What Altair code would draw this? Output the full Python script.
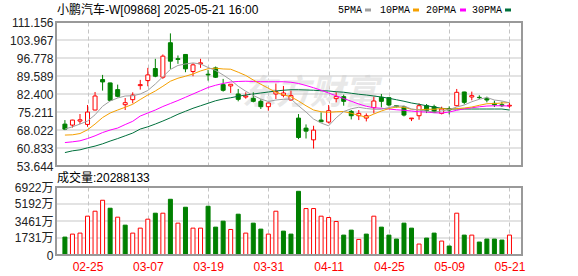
import json
import altair as alt
import pandas as pd

# ---------------- data ----------------
dates = ["02-20", "02-21", "02-24", "02-25", "02-26", "02-27", "02-28", "03-03", "03-04", "03-05",
         "03-06", "03-07", "03-10", "03-11", "03-12", "03-13", "03-14", "03-17", "03-18", "03-19",
         "03-20", "03-21", "03-24", "03-25", "03-26", "03-27", "03-28", "03-31", "04-01", "04-02",
         "04-03", "04-07", "04-08", "04-09", "04-10", "04-11", "04-14", "04-15", "04-16", "04-17",
         "04-22", "04-23", "04-24", "04-25", "04-28", "04-29", "04-30", "05-02", "05-06", "05-07",
         "05-08", "05-09", "05-12", "05-13", "05-14", "05-15", "05-16", "05-19", "05-20", "05-21"]

opens = [70.38, 69.98, 71.58, 70.25, 76.0, 88.16, 86.82, 84.15, 78.13, 80.14,
         85.75, 87.76, 92.57, 89.1, 102.87, 96.5, 98.19, 91.37, 94.44, 90.3,
         92.84, 86.15, 85.62, 82.41, 81.2, 80.67, 79.47, 77.33, 82.41, 81.88,
         80.0, 72.78, 68.77, 64.09, 71.98, 71.18, 80.54, 81.34, 75.46, 73.72,
         72.78, 76.93, 81.07, 80.94, 77.73, 77.33, 72.51, 73.72, 77.73, 77.33,
         74.66, 76.53, 77.73, 83.21, 81.2, 81.07, 80.67, 78.67, 78.13, 77.6]
highs = [71.98, 72.1, 74.4, 78.0, 83.2, 90.03, 86.9, 86.15, 80.8, 83.08,
         88.03, 92.84, 96.45, 98.19, 106.61, 97.79, 98.3, 94.71, 96.45, 92.04,
         93.37, 88.43, 86.29, 84.41, 83.08, 83.08, 80.27, 78.8, 86.56, 85.62,
         83.75, 74.39, 70.25, 69.71, 75.06, 78.0, 83.08, 82.14, 76.0, 76.0,
         74.66, 81.34, 82.41, 81.0, 77.8, 77.73, 72.8, 78.67, 78.4, 78.13,
         77.33, 77.46, 84.41, 83.3, 83.35, 81.88, 81.34, 79.74, 79.34, 78.8]
lows = [67.97, 69.0, 70.38, 69.3, 75.9, 83.75, 79.6, 81.07, 76.0, 78.67,
        84.15, 85.49, 89.1, 88.43, 92.44, 94.44, 91.1, 89.5, 92.84, 87.76,
        88.83, 83.35, 82.81, 79.47, 80.54, 79.07, 76.4, 75.73, 80.4, 81.07,
        79.74, 64.36, 64.63, 60.62, 71.18, 70.65, 79.07, 77.73, 72.25, 71.98,
        71.45, 74.66, 77.06, 77.46, 77.06, 73.45, 71.58, 72.12, 74.79, 74.79,
        74.26, 74.26, 77.46, 78.27, 79.87, 80.4, 79.07, 77.2, 77.2, 76.9]
closes = [68.37, 71.98, 72.1, 75.19, 81.6, 87.22, 79.87, 81.47, 78.93, 82.0,
          86.15, 90.03, 89.5, 97.52, 95.51, 96.2, 92.44, 94.04, 94.84, 90.03,
          89.1, 83.88, 86.29, 80.27, 81.6, 79.47, 77.33, 78.8, 83.35, 82.81,
          81.74, 65.03, 67.57, 67.97, 71.31, 75.73, 81.34, 79.47, 73.72, 74.66,
          73.72, 79.6, 79.47, 78.0, 77.33, 73.99, 72.78, 77.73, 75.86, 75.06,
          76.4, 76.0, 83.08, 79.07, 81.74, 80.94, 80.0, 78.13, 77.73, 77.9]

# volume in 万 shares
volumes = [1824, 2128, 2229, 3951, 4458, 5572, 4762, 3850, 3039, 2229,
           2735, 3647, 4255, 4255, 5673, 3242, 4863, 2735, 2735, 4964,
           2837, 3445, 2600, 4154, 2229, 3242, 2634, 2128, 4458, 2431,
           2128, 6484, 4728, 4728, 3951, 3816, 3411, 2026, 2533, 1587,
           2128, 3951, 2837, 2026, 1621, 3242, 2735, 1114, 1722, 2229,
           1418, 912, 4255, 2026, 2026, 1317, 1621, 1621, 1520, 2028.8133]
# 1 = red (rise vs previous close), 0 = green
vol_up = [0, 1, 1, 1, 1, 1, 0, 1, 0, 1,
          1, 1, 0, 1, 0, 1, 0, 1, 1, 0,
          0, 0, 1, 0, 1, 0, 0, 1, 1, 0,
          0, 0, 1, 1, 1, 1, 1, 0, 0, 1,
          0, 1, 0, 0, 0, 0, 0, 1, 0, 0,
          1, 0, 1, 0, 1, 0, 0, 0, 0, 1]

ma5 = [68.4, 69.3, 70.4, 71.6, 74.1, 77.5, 79.6, 80.8, 81.6, 81.7,
       82.4, 83.8, 86.4, 89.3, 92.2, 93.8, 94.4, 94.8, 94.4, 93.0,
       91.8, 90.0, 88.0, 85.5, 83.5, 81.8, 80.4, 79.4, 80.0, 80.3,
       80.4, 77.7, 75.2, 72.4, 70.8, 69.7, 72.9, 75.4, 76.5, 77.1,
       76.6, 76.3, 76.3, 77.0, 77.6, 77.6, 76.4, 76.0, 75.6, 75.2,
       75.6, 76.2, 77.2, 78.0, 79.3, 80.3, 81.0, 80.0, 79.6, 78.9]
ma10 = [66.0, 66.1, 66.6, 68.1, 70.4, 73.0, 74.8, 76.0, 77.1, 78.3,
        80.2, 82.0, 83.6, 85.5, 87.5, 88.7, 89.5, 90.4, 91.6, 92.5,
        92.7, 92.4, 92.3, 91.1, 89.8, 88.0, 86.3, 84.7, 83.1, 82.1,
        81.3, 79.6, 77.7, 76.0, 75.3, 75.1, 75.3, 75.4, 74.7, 73.9,
        73.1, 74.4, 75.6, 76.6, 77.2, 77.1, 76.3, 76.1, 76.3, 76.3,
        76.6, 76.3, 76.6, 76.8, 77.2, 77.9, 78.5, 78.6, 78.8, 79.0]
ma20 = [63.0, 63.3, 63.7, 64.6, 65.7, 67.0, 68.0, 68.8, 70.2, 71.5,
        73.6, 74.8, 76.0, 77.4, 78.6, 79.8, 81.1, 82.4, 83.7, 85.0,
        85.9, 86.6, 87.2, 87.4, 87.5, 87.4, 87.3, 87.3, 87.3, 87.3,
        87.1, 86.6, 85.8, 84.9, 83.9, 82.8, 81.7, 80.6, 79.5, 78.4,
        77.5, 76.9, 76.7, 76.4, 76.1, 75.9, 75.6, 75.3, 75.2, 74.9,
        74.8, 75.2, 75.9, 76.5, 76.9, 77.3, 77.6, 77.7, 77.7, 77.6]
ma30 = [59.0, 59.7, 60.1, 60.9, 61.6, 62.5, 63.6, 64.6, 65.7, 66.8,
        68.4, 69.3, 70.4, 71.6, 72.9, 74.3, 75.5, 76.7, 77.7, 78.7,
        79.7, 80.4, 80.9, 81.5, 82.0, 82.4, 82.8, 83.2, 83.6, 83.9,
        84.1, 84.1, 84.0, 83.9, 83.7, 83.6, 83.3, 83.1, 82.7, 82.3,
        82.0, 81.6, 81.2, 80.7, 80.1, 79.5, 78.8, 78.3, 77.7, 77.2,
        76.7, 76.4, 76.4, 76.4, 76.4, 76.4, 76.4, 76.4, 76.4, 76.0]

price_ticks = [53.644, 60.833, 68.022, 75.211, 82.400, 89.589, 96.778, 103.967, 111.156]
vol_ticks = [0, 1731, 3461, 5192, 6922]
date_ticks = ["02-25", "03-07", "03-19", "03-31", "04-11", "04-25", "05-09", "05-21"]

title_text = "小鹏汽车-W[09868] 2025-05-21 16:00"
vol_title = "成交量:20288133"
watermark = "东方财富"
legend_names = ["5PMA", "10PMA", "20PMA", "30PMA"]

# ---------------- styles / layout ----------------
RED = "#ff0000"
GREEN = "#008000"
MA_COLORS = ["#a0a0a0", "#f5a000", "#ff00ff", "#00703c"]
CANVAS_W, CANVAS_H = 578, 276
LEFT, TOP = 56, 21.5
W = 466
PRICE_H = 144
GAP = 21
VOL_H = 68
FRAME = "#999999"
GRID = "#c8c8c8"
DASH = "#c4c4c4"
LABEL_FONT = "Liberation Sans, Noto Sans CJK SC"
LEGEND_TEXT_X = [282, 324, 370, 416]
LEGEND_SWATCH_X = [309, 357, 404, 449]
X_DOMAIN = [-0.52, 60.0]

df = pd.DataFrame({
    "i": list(range(len(dates))), "date": dates,
    "open": opens, "high": highs, "low": lows, "close": closes,
    "vol": volumes,
    "ma5": ma5, "ma10": ma10, "ma20": ma20, "ma30": ma30,
})
df["cdir"] = ["up" if c >= o else "down" for o, c in zip(opens, closes)]
df["vdir"] = ["up" if u else "down" for u in vol_up]
tick_idx = [dates.index(d) for d in date_ticks]

x_scale = alt.Scale(domain=X_DOMAIN, nice=False, zero=False)
price_scale = alt.Scale(domain=[price_ticks[0], price_ticks[-1]], nice=False, zero=False)
vol_scale = alt.Scale(domain=[vol_ticks[0], vol_ticks[-1]], nice=False, zero=False)
fill_scale = alt.Scale(domain=["up", "down"], range=["#ffffff", GREEN])
stroke_scale = alt.Scale(domain=["up", "down"], range=[RED, GREEN])

x_axis_top = alt.Axis(values=tick_idx, labels=False, ticks=False, domain=False, title=None,
                      grid=True, gridColor=DASH, gridDash=[4, 3], gridWidth=1)
x_axis_bottom = alt.Axis(values=tick_idx, labelExpr=json.dumps(dates) + "[datum.value]",
                         ticks=False, tickSize=0, domain=False, title=None,
                         grid=True, gridColor=DASH, gridDash=[4, 3], gridWidth=1,
                         labelColor=RED, labelFont=LABEL_FONT, labelFontSize=12,
                         labelBaseline="middle", labelPadding=11,
                         labelFlush=False, labelOverlap=False)
price_axis = alt.Axis(values=price_ticks, format=".3f", orient="left",
                      grid=False, ticks=False, domain=False, title=None,
                      labelFont=LABEL_FONT, labelFontSize=12, labelColor="#222222",
                      labelPadding=3, labelFlush=False, labelOverlap=False)
vol_axis = alt.Axis(values=vol_ticks, orient="left",
                    labelExpr="datum.value == 0 ? '0' : datum.value + '万'",
                    grid=False, ticks=False, domain=False, title=None,
                    labelFont=LABEL_FONT, labelFontSize=12, labelColor="#222222",
                    labelPadding=3, labelFlush=False, labelOverlap=False)

XT = alt.X("i:Q", scale=x_scale, axis=x_axis_top)
XB = alt.X("i:Q", scale=x_scale, axis=x_axis_bottom)


def PY(field):
    return alt.Y(field, scale=price_scale, axis=price_axis)


def VY(field):
    return alt.Y(field, scale=vol_scale, axis=vol_axis, stack=None)


def one(**kw):
    return alt.Chart(pd.DataFrame([kw]))


def frame_layers(h, tag):
    """Box drawn as four thin filled rects around a panel of height h."""
    sides = [(-1, W + 1, -1, 1), (-1, W + 1, h - 1, h + 1), (-1, 1, 0, h), (W - 1, W + 1, 0, h)]
    return [one(k=f"{tag}{n}").mark_rect(color=FRAME, opacity=1).encode(
        x=alt.value(x0), x2=alt.value(x1), y=alt.value(y0), y2=alt.value(y1))
        for n, (x0, x1, y0, y1) in enumerate(sides)]


base = alt.Chart(df)

# invisible boxes that fix the overall canvas extent (autosize "pad")
bbox_top = one(k="bt").mark_rect(opacity=0).encode(
    x=alt.value(-LEFT), x2=alt.value(CANVAS_W - LEFT), y=alt.value(-TOP), y2=alt.value(PRICE_H))
bbox_bottom = one(k="bb").mark_rect(opacity=0).encode(
    x=alt.value(-LEFT), x2=alt.value(CANVAS_W - LEFT), y=alt.value(0),
    y2=alt.value(CANVAS_H - TOP - PRICE_H - GAP))

wm = one(t=watermark).mark_text(align="center", baseline="middle", font="Noto Sans CJK SC",
                                fontSize=34, fontWeight="bold", fontStyle="italic",
                                color="#e8e8e8").encode(
    x=alt.value(254), y=alt.value(72), text="t:N")

pgrid = alt.Chart(pd.DataFrame({"v": price_ticks})).mark_tick(
    orient="horizontal", thickness=1, size=W, color=GRID, opacity=1).encode(
    x=alt.value(W / 2), y=PY("v:Q"))

wicks = base.mark_rule(strokeWidth=1).encode(
    x=XT, y=PY("low:Q"), y2="high:Q",
    color=alt.Color("cdir:N", scale=stroke_scale, legend=None))
bodies = base.mark_bar(size=4, strokeWidth=1).encode(
    x=XT, y=PY("open:Q"), y2="close:Q",
    fill=alt.Fill("cdir:N", scale=fill_scale, legend=None),
    stroke=alt.Stroke("cdir:N", scale=stroke_scale, legend=None))
ma_layers = [base.mark_line(strokeWidth=1, color=c).encode(x=XT, y=PY(f"{col}:Q"))
             for col, c in zip(["ma30", "ma20", "ma10", "ma5"], MA_COLORS[::-1])]

title = one(t=title_text).mark_text(align="left", baseline="middle", font=LABEL_FONT,
                                    fontSize=12, color="#000000").encode(
    x=alt.value(1), y=alt.value(-12), text="t:N")

legend_layers = []
for name, colr, tx, sx in zip(legend_names, MA_COLORS, LEGEND_TEXT_X, LEGEND_SWATCH_X):
    legend_layers.append(one(t=name).mark_text(align="left", baseline="middle",
                                               font="Liberation Mono", fontSize=10,
                                               color="#000000").encode(
        x=alt.value(tx), y=alt.value(-12), text="t:N"))
    legend_layers.append(one(k=f"s{name}").mark_rect(color=colr).encode(
        x=alt.value(sx), x2=alt.value(sx + 6), y=alt.value(-13.5), y2=alt.value(-10.5)))

price_chart = alt.layer(
    bbox_top, wm, pgrid, wicks, bodies, *ma_layers, *frame_layers(PRICE_H, "p"),
    title, *legend_layers
).properties(width=W, height=PRICE_H)

vgrid = alt.Chart(pd.DataFrame({"v": vol_ticks})).mark_tick(
    orient="horizontal", thickness=1, size=W, color=GRID, opacity=1).encode(
    x=alt.value(W / 2), y=VY("v:Q"))
vol_bars = base.mark_bar(size=4, strokeWidth=1).encode(
    x=XB, y=VY("vol:Q"),
    fill=alt.Fill("vdir:N", scale=fill_scale, legend=None),
    stroke=alt.Stroke("vdir:N", scale=stroke_scale, legend=None))
vtitle = one(t=vol_title).mark_text(align="left", baseline="middle", font=LABEL_FONT,
                                    fontSize=12, color="#000000").encode(
    x=alt.value(1), y=alt.value(-9.5), text="t:N")

vol_chart = alt.layer(
    bbox_bottom, vgrid, vol_bars, *frame_layers(VOL_H, "v"), vtitle
).properties(width=W, height=VOL_H)

chart = alt.vconcat(price_chart, vol_chart, spacing=GAP, bounds="flush").properties(
    padding=0, background="#ffffff",
).configure_view(strokeWidth=0)

chart.save("out.html", embed_options={"renderer": "svg", "actions": False})
